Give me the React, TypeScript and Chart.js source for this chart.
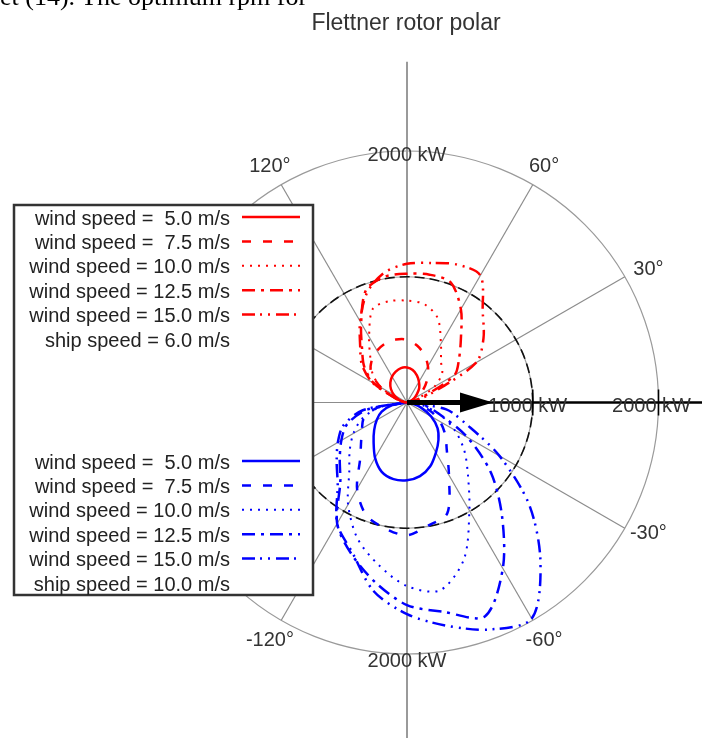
import React, { useEffect, useRef } from "react";
import { Chart, registerables } from "chart.js";

Chart.register(...registerables);

const TITLE = "Flettner rotor polar";
const CAPTION = "et (14). The optimum rpm for";

// apparent wind direction in degrees (counter-clockwise from ship heading)
const ANGLES = [0, 10, 20, 30, 40, 50, 60, 70, 80, 90, 100, 110, 120, 130, 140, 150, 160, 170, 180];

const WIND_LABELS = [
  "wind speed =  5.0 m/s",
  "wind speed =  7.5 m/s",
  "wind speed = 10.0 m/s",
  "wind speed = 12.5 m/s",
  "wind speed = 15.0 m/s",
];
const SHIP_LABELS = ["ship speed = 6.0 m/s", "ship speed = 10.0 m/s"];

// ship speed 6.0 m/s (upper half), rotor power in kW
const RED_W5 = [0, 8, 24, 63, 103, 151, 190, 230, 262, 278, 278, 262, 238, 206, 167, 119, 71, 32, 0];
const RED_W7_5 = [0, 8, 32, 95, 175, 254, 333, 405, 460, 500, 508, 500, 476, 437, 373, 238, 95, 32, 0];
const RED_W10 = [0, 24, 95, 254, 365, 421, 540, 714, 794, 810, 818, 794, 603, 452, 357, 238, 79, 24, 0];
const RED_W12_5 = [0, 32, 143, 437, 540, 667, 857, 1016, 1032, 1024, 1016, 952, 730, 556, 444, 302, 87, 24, 0];
const RED_W15 = [0, 40, 198, 635, 794, 937, 1167, 1167, 1127, 1103, 1048, 929, 746, 579, 468, 317, 95, 24, 0];

// ship speed 10.0 m/s (lower half), rotor power in kW
const BLUE_W5 = [0, 40, 119, 222, 317, 389, 460, 540, 595, 619, 619, 587, 508, 413, 341, 278, 214, 119, 0];
const BLUE_W7_5 = [0, 79, 198, 302, 397, 492, 667, 937, 992, 1056, 1016, 952, 794, 579, 476, 413, 365, 238, 0];
const BLUE_W10 = [0, 119, 278, 437, 595, 754, 992, 1325, 1516, 1460, 1310, 1151, 937, 714, 595, 492, 381, 222, 0];
const BLUE_W12_5 = [0, 143, 278, 556, 873, 1175, 1524, 1810, 1691, 1611, 1452, 1286, 1111, 825, 698, 603, 508, 317, 0];
const BLUE_W15 = [0, 317, 500, 849, 1270, 1651, 1984, 1921, 1802, 1683, 1524, 1270, 1111, 857, 730, 635, 540, 357, 0];

const RED_SERIES = [RED_W5, RED_W7_5, RED_W10, RED_W12_5, RED_W15];
const BLUE_SERIES = [BLUE_W5, BLUE_W7_5, BLUE_W10, BLUE_W12_5, BLUE_W15];

const RINGS = [1000, 2000];
const RING_UNIT = "kW";
const SPOKES = [30, 60, 120, 150, 180, -30, -60, -120, -150];
const ANGLE_LABEL_DEGS = [30, 60, 120, -30, -60, -120];
const ARROW_TIP_KW = 684;

// styles
const RED = "#ff0000";
const BLUE = "#0000ff";
const LINE_STYLES = [
  { dash: [] as number[], width: 2.5 },
  { dash: [9, 12], width: 2.5 },
  { dash: [2, 6], width: 2 },
  { dash: [13, 6, 3, 6], width: 2.5 },
  { dash: [13, 5, 2, 6, 2, 6], width: 2.5 },
];
const FONT = '"Liberation Sans", Arial, Helvetica, sans-serif';

const W = 702;
const H = 738;
const CX = 407;
const CY = 402.5;
const KW_PER_PX = 2000 / 251.5;

function toXY(powers: number[], sign: number) {
  return ANGLES.map((a, i) => {
    const t = (sign * a * Math.PI) / 180;
    return { x: powers[i] * Math.cos(t), y: powers[i] * Math.sin(t) };
  });
}

function makeDatasets() {
  const ds: any[] = [];
  RED_SERIES.forEach((s, i) => {
    ds.push({
      label: WIND_LABELS[i] + " / " + SHIP_LABELS[0],
      data: toXY(s, 1),
      showLine: true,
      pointRadius: 0,
      borderColor: RED,
      borderWidth: LINE_STYLES[i].width,
      borderDash: LINE_STYLES[i].dash,
      tension: 0.3,
      fill: false,
    });
  });
  BLUE_SERIES.forEach((s, i) => {
    ds.push({
      label: WIND_LABELS[i] + " / " + SHIP_LABELS[1],
      data: toXY(s, -1),
      showLine: true,
      pointRadius: 0,
      borderColor: BLUE,
      borderWidth: LINE_STYLES[i].width,
      borderDash: LINE_STYLES[i].dash,
      tension: 0.3,
      fill: false,
    });
  });
  return ds;
}

const polarDecor = {
  id: "polarDecor",
  beforeDatasetsDraw(chart: any) {
    const { ctx } = chart;
    const xs = chart.scales.x;
    const ys = chart.scales.y;
    const cx = xs.getPixelForValue(0);
    const cy = ys.getPixelForValue(0);
    const rpx = (v: number) => xs.getPixelForValue(v) - cx;
    const P = (r: number, deg: number) => {
      const t = (deg * Math.PI) / 180;
      return [xs.getPixelForValue(r * Math.cos(t)), ys.getPixelForValue(r * Math.sin(t))];
    };
    const outer = RINGS[RINGS.length - 1];
    ctx.save();
    // outer ring
    ctx.strokeStyle = "#9a9a9a";
    ctx.lineWidth = 1.2;
    ctx.beginPath();
    ctx.arc(cx, cy, rpx(outer), 0, Math.PI * 2);
    ctx.stroke();
    // spokes
    ctx.strokeStyle = "#8c8c8c";
    ctx.lineWidth = 1.2;
    SPOKES.forEach((a) => {
      const [x, y] = P(outer, a);
      ctx.beginPath();
      ctx.moveTo(cx, cy);
      ctx.lineTo(x, y);
      ctx.stroke();
    });
    // vertical axis
    ctx.strokeStyle = "#9a9a9a";
    ctx.lineWidth = 2;
    ctx.beginPath();
    ctx.moveTo(cx, ys.getPixelForValue(outer * 1.355));
    ctx.lineTo(cx, chart.chartArea.bottom);
    ctx.stroke();
    // inner ring: grey under black dashes
    const r1 = rpx(RINGS[0]);
    ctx.strokeStyle = "#a0a0a0";
    ctx.lineWidth = 1.2;
    ctx.beginPath();
    ctx.arc(cx, cy, r1, 0, Math.PI * 2);
    ctx.stroke();
    ctx.strokeStyle = "#111";
    ctx.lineWidth = 1.6;
    ctx.setLineDash([10, 5]);
    ctx.beginPath();
    ctx.arc(cx, cy, r1, 0, Math.PI * 2);
    ctx.stroke();
    ctx.restore();
  },
  afterDatasetsDraw(chart: any) {
    const { ctx } = chart;
    const xs = chart.scales.x;
    const ys = chart.scales.y;
    const cx = xs.getPixelForValue(0);
    const cy = ys.getPixelForValue(0);
    const rpx = (v: number) => xs.getPixelForValue(v) - cx;
    const P = (r: number, deg: number) => {
      const t = (deg * Math.PI) / 180;
      return [xs.getPixelForValue(r * Math.cos(t)), ys.getPixelForValue(r * Math.sin(t))];
    };
    const outer = RINGS[RINGS.length - 1];
    ctx.save();
    // heading axis (black) to the right edge
    ctx.strokeStyle = "#000";
    ctx.lineWidth = 2.5;
    ctx.beginPath();
    ctx.moveTo(cx, cy);
    ctx.lineTo(chart.chartArea.right, cy);
    ctx.stroke();
    // arrow
    const tip = xs.getPixelForValue(ARROW_TIP_KW);
    const base = tip - 33;
    ctx.lineWidth = 5;
    ctx.beginPath();
    ctx.moveTo(cx, cy);
    ctx.lineTo(base + 2, cy);
    ctx.stroke();
    ctx.fillStyle = "#000";
    ctx.beginPath();
    ctx.moveTo(tip, cy);
    ctx.lineTo(base, cy - 10);
    ctx.lineTo(base, cy + 10);
    ctx.closePath();
    ctx.fill();
    // ticks at ring crossings
    ctx.lineWidth = 1.6;
    RINGS.forEach((r) => {
      const x = xs.getPixelForValue(r);
      ctx.beginPath();
      ctx.moveTo(x, cy - 13);
      ctx.lineTo(x, cy + 13);
      ctx.stroke();
    });
    // ring labels
    ctx.font = "20px " + FONT;
    ctx.fillStyle = "#333";
    ctx.textAlign = "center";
    ctx.textBaseline = "alphabetic";
    RINGS.forEach((r, i) => {
      const x = xs.getPixelForValue(r);
      ctx.fillText(r + " " + RING_UNIT, x - (i === 0 ? 5 : 7), cy + 9);
    });
    ctx.fillText(outer + " " + RING_UNIT, cx, cy - rpx(outer) + 9.5);
    ctx.fillText(outer + " " + RING_UNIT, cx, cy + rpx(outer) + 12.5);
    // angle labels
    ctx.textBaseline = "middle";
    ANGLE_LABEL_DEGS.forEach((a) => {
      const [x, y] = P(outer * 1.09, a);
      ctx.fillText(a + "\u00b0", x + (Math.abs(a) < 45 ? 4 : 0), y + (Math.abs(a) < 45 ? (a > 0 ? 4 : -6) : 1));
    });
    ctx.restore();
  },
  afterDraw(chart: any) {
    const { ctx } = chart;
    ctx.save();
    // title
    ctx.font = "23px " + FONT;
    ctx.fillStyle = "#333";
    ctx.textAlign = "center";
    ctx.textBaseline = "alphabetic";
    ctx.fillText(TITLE, 406, 30);
    // legend box
    const bx = 14, by = 205, bw = 299, bh = 390;
    ctx.fillStyle = "#fff";
    ctx.fillRect(bx, by, bw, bh);
    ctx.strokeStyle = "#333";
    ctx.lineWidth = 2.5;
    ctx.strokeRect(bx, by, bw, bh);
    const rowH = 24.4;
    const firstY = 217;
    const textRight = 230;
    const sx0 = 242, sx1 = 300;
    ctx.font = "20px " + FONT;
    ctx.textAlign = "right";
    const groups = [
      { color: RED, ship: SHIP_LABELS[0], start: 0 },
      { color: BLUE, ship: SHIP_LABELS[1], start: 10 },
    ];
    groups.forEach((g) => {
      WIND_LABELS.forEach((lab, i) => {
        const y = firstY + rowH * (g.start + i);
        ctx.fillStyle = "#222";
        ctx.fillText(lab, textRight, y + 7.5);
        ctx.strokeStyle = g.color;
        ctx.lineWidth = LINE_STYLES[i].width;
        ctx.setLineDash(LINE_STYLES[i].dash);
        ctx.beginPath();
        ctx.moveTo(sx0, y);
        ctx.lineTo(sx1, y);
        ctx.stroke();
        ctx.setLineDash([]);
      });
      const y = firstY + rowH * (g.start + 5);
      ctx.fillStyle = "#222";
      ctx.fillText(g.ship, textRight, y + 7.5);
    });
    ctx.restore();
  },
};

export default function App() {
  const ref = useRef<HTMLCanvasElement>(null);
  useEffect(() => {
    const canvas = ref.current;
    if (!canvas) return;
    const chart = new Chart(canvas, {
      type: "scatter",
      data: { datasets: makeDatasets() },
      options: {
        animation: false,
        responsive: false,
        maintainAspectRatio: false,
        layout: { padding: 0 },
        scales: {
          x: { type: "linear", display: false, min: -CX * KW_PER_PX, max: (W - CX) * KW_PER_PX },
          y: { type: "linear", display: false, min: -(H - CY) * KW_PER_PX, max: CY * KW_PER_PX },
        },
        plugins: {
          legend: { display: false },
          tooltip: { enabled: false },
          title: { display: false },
        },
      },
      plugins: [polarDecor],
    } as any);
    return () => chart.destroy();
  }, []);
  return (
    <div style={{ position: "absolute", left: 0, top: 0, width: W, height: H, overflow: "hidden", background: "#fff" }}>
      <canvas ref={ref} width={W} height={H} style={{ display: "block", width: W, height: H }} />
      <div
        style={{
          position: "absolute",
          left: 0,
          top: -18,
          fontFamily: '"Liberation Serif", "Times New Roman", serif',
          fontSize: 26,
          lineHeight: "30px",
          whiteSpace: "nowrap",
          color: "#000",
        }}
      >
        {CAPTION}
      </div>
    </div>
  );
}
